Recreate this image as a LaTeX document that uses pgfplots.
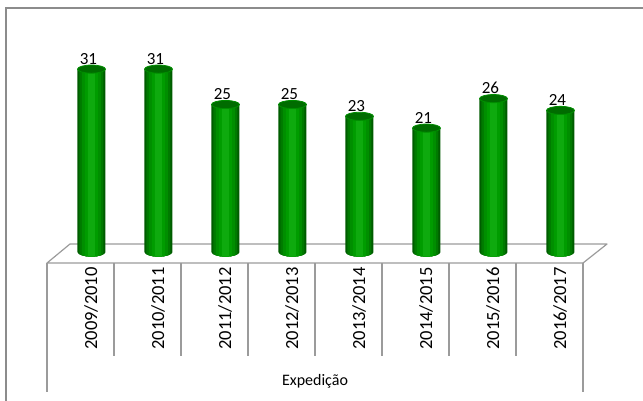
\documentclass[border=0pt]{standalone}
\usepackage{fontspec}
\setmainfont{Carlito}
\usepackage{pgfplots}
\usepackage{pgfplotstable}
\pgfplotsset{compat=1.18}
\definecolor{g1}{RGB}{0,92,0}
\definecolor{g2}{RGB}{0,122,0}
\definecolor{g3}{RGB}{0,142,0}
\definecolor{g4}{RGB}{0,156,0}
\definecolor{g5}{RGB}{14,170,14}
\definecolor{barT}{RGB}{0,108,0}
\definecolor{lineG}{RGB}{155,155,155}
\definecolor{frameG}{RGB}{140,140,140}

% lower half of the cylinder's base ellipse, cut to a given half-width
\newcommand\cylbottom[1]{%
  \pgfscope
  \pgfpathrectangle{\pgfpoint{-#1}{-6pt}}{\pgfpoint{2*#1}{6pt}}\pgfusepath{clip}%
  \pgfpathellipse{\pgfpointorigin}{\pgfpoint{14pt}{0pt}}{\pgfpoint{0pt}{4.6pt}}\pgfusepathqfill
  \endpgfscope}
\pgfdeclareplotmark{cbA}{\cylbottom{14pt}}
\pgfdeclareplotmark{cbB}{\cylbottom{12pt}}
\pgfdeclareplotmark{cbC}{\cylbottom{9.5pt}}
\pgfdeclareplotmark{cbD}{\cylbottom{6.5pt}}
\pgfdeclareplotmark{cbE}{\cylbottom{3.5pt}}

% xs = category centre shifted back-right by the 3D depth
\pgfplotstableread{
x   xs    y  base
0.5 0.664 31 0
1.5 1.664 31 0
2.5 2.664 25 0
3.5 3.664 25 0
4.5 4.664 23 0
5.5 5.664 21 0
6.5 6.664 26 0
7.5 7.664 24 0
}\datatable

\begin{document}
\begin{tikzpicture}
\path[use as bounding box] (0pt,0pt) rectangle (643pt,400pt);
\draw[frameG, line width=1.6pt] (6pt,-2pt) -- (6pt,392pt) -- (645pt,392pt);
% floor
\draw[lineG, line width=1.2pt, line join=round] (47pt,137pt) -- (583pt,137pt) -- (607pt,156pt) -- (70pt,156pt) -- cycle;
\foreach \i in {1,...,7} { \draw[lineG, line width=1.2pt] ({(47+67*\i)*1pt},137pt) -- ({(47+67*\i)*1pt},44pt); }
\draw[lineG, line width=1.2pt] (47pt,137pt) -- (47pt,8pt);
\draw[lineG, line width=1.2pt] (583pt,137pt) -- (583pt,8pt);
\begin{axis}[
  at={(47pt,137pt)}, anchor=south west,
  scale only axis, width=536pt, height=222.8pt,
  xmin=0, xmax=8, ymin=-1.86, ymax=35.9,
  clip=false,
  /pgf/number format/assume math mode=true,
  axis line style={draw=none}, tick style={draw=none},
  ytick=\empty,
  xtick={0.5,1.5,2.5,3.5,4.5,5.5,6.5,7.5},
  xticklabels={2009/2010,2010/2011,2011/2012,2012/2013,2013/2014,2014/2015,2015/2016,2016/2017},
  x tick label style={rotate=90, anchor=east, inner sep=0pt, yshift=-10.5pt, font=\fontsize{18.5}{22}\selectfont},
  xlabel={Expedição},
  xlabel style={at={(rel axis cs:0.5,0)}, anchor=center, yshift=-118pt, font=\fontsize{16}{19}\selectfont},
  ybar, bar shift=0pt,
]
% bottom rounding (below the floor line of each bar)
\addplot[only marks, mark=cbA, mark options={draw=none, fill=g1}] table[x=xs, y=base]{\datatable};
\addplot[only marks, mark=cbB, mark options={draw=none, fill=g2}] table[x=xs, y=base]{\datatable};
\addplot[only marks, mark=cbC, mark options={draw=none, fill=g3}] table[x=xs, y=base]{\datatable};
\addplot[only marks, mark=cbD, mark options={draw=none, fill=g4}] table[x=xs, y=base]{\datatable};
\addplot[only marks, mark=cbE, mark options={draw=none, fill=g5}] table[x=xs, y=base]{\datatable};
% bars as layered cylinder shading
\addplot[bar width=28pt, draw=none, fill=g1] table[x=xs, y=y]{\datatable};
\addplot[bar width=24pt, draw=none, fill=g2] table[x=xs, y=y]{\datatable};
\addplot[bar width=19pt, draw=none, fill=g3] table[x=xs, y=y]{\datatable};
\addplot[bar width=13pt, draw=none, fill=g4] table[x=xs, y=y]{\datatable};
\addplot[bar width=7pt, draw=none, fill=g5] table[x=xs, y=y]{\datatable};
% tops
\addplot[only marks, mark=*, mark size=14pt,
  mark options={yscale=0.29, fill=barT, draw=g3, line width=0.8pt},
  nodes near coords,
  nodes near coords style={anchor=south, xshift=-3pt, yshift=4.5pt, inner sep=0pt, font=\fontsize{17}{20}\selectfont, text=black}]
  table[x=xs, y=y]{\datatable};
\end{axis}
\end{tikzpicture}
\end{document}
